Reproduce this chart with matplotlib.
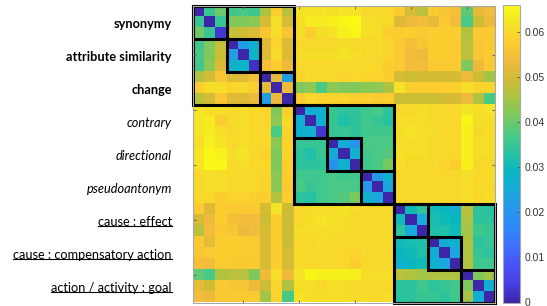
import numpy as np
import matplotlib
matplotlib.use('Agg')
import matplotlib.pyplot as plt
from matplotlib.colors import LinearSegmentedColormap
from matplotlib.patches import Rectangle
from matplotlib.lines import Line2D
import matplotlib.transforms as mtransforms

# relation labels, one per block of 3 word pairs
relations = ['synonymy', 'attribute similarity', 'change',
             'contrary', 'directional', 'pseudoantonym',
             'cause : effect', 'cause : compensatory action', 'action / activity : goal']
label_style = ['bold'] * 3 + ['italic'] * 3 + ['underline'] * 3
block_size = 3
family_size = 9

# upper triangle of the distance matrix (row i, columns i..26), in thousandths
sim_upper = [
    [0, 35, 40, 36, 37, 36, 46, 58, 47, 62, 62, 62, 61, 62, 62, 60, 60, 60, 57, 50, 47, 57, 56, 55, 39, 52, 54],
    [0, 35, 42, 42, 43, 50, 61, 50, 61, 63, 63, 64, 65, 66, 61, 61, 60, 51, 53, 54, 52, 57, 54, 37, 49, 53],
    [3, 48, 49, 51, 56, 61, 56, 61, 58, 61, 62, 64, 65, 61, 61, 58, 58, 58, 57, 58, 58, 58, 46, 57, 57],
    [0, 22, 27, 51, 59, 51, 60, 60, 60, 60, 61, 60, 60, 60, 59, 57, 55, 56, 58, 58, 57, 47, 56, 57],
    [0, 28, 51, 60, 51, 61, 61, 61, 61, 62, 61, 60, 60, 59, 57, 54, 53, 58, 58, 57, 47, 56, 57],
    [2, 55, 58, 53, 60, 60, 60, 60, 60, 60, 60, 60, 58, 57, 54, 54, 57, 57, 57, 42, 53, 57],
    [0, 52, 22, 59, 60, 60, 60, 59, 60, 59, 59, 58, 50, 49, 50, 50, 50, 50, 53, 49, 45],
    [0, 53, 42, 43, 37, 43, 42, 42, 43, 43, 46, 62, 58, 58, 58, 58, 58, 61, 59, 59],
    [0, 58, 60, 59, 59, 59, 58, 58, 57, 58, 49, 49, 49, 49, 50, 50, 53, 46, 37],
    [0, 26, 27, 35, 34, 34, 36, 37, 34, 60, 60, 61, 60, 60, 60, 62, 61, 62],
    [0, 27, 35, 32, 34, 36, 35, 33, 61, 61, 61, 60, 60, 60, 65, 61, 61],
    [3, 35, 35, 34, 36, 36, 36, 61, 62, 61, 61, 60, 60, 64, 60, 61],
    [0, 26, 20, 37, 37, 37, 61, 61, 61, 60, 60, 60, 64, 61, 61],
    [0, 27, 36, 37, 38, 62, 61, 61, 60, 60, 60, 64, 61, 61],
    [0, 36, 37, 41, 61, 60, 60, 60, 59, 58, 64, 60, 60],
    [0, 21, 27, 60, 60, 60, 60, 60, 60, 61, 60, 61],
    [0, 24, 60, 60, 60, 60, 60, 60, 61, 60, 60],
    [0, 60, 60, 60, 60, 60, 60, 61, 60, 61],
    [0, 30, 34, 30, 29, 27, 47, 34, 33],
    [0, 25, 31, 30, 29, 46, 34, 34],
    [0, 32, 32, 30, 45, 36, 35],
    [0, 26, 27, 46, 34, 35],
    [0, 24, 46, 35, 34],
    [0, 46, 36, 36],
    [0, 42, 45],
    [0, 26],
    [0],
]
cbar_ticks = [0, 0.01, 0.02, 0.03, 0.04, 0.05, 0.06]
cbar_labels = ['0', '0.01', '0.02', '0.03', '0.04', '0.05', '0.06']
cbar_max = 0.066

n = len(sim_upper)
sim = np.zeros((n, n))
for i, row in enumerate(sim_upper):
    sim[i, i:] = row
    sim[i:, i] = row
sim = sim / 1000.0

# parula-like colormap
parula_anchors = [
    (0.000, (0.2422, 0.1504, 0.6603)),
    (0.0625, (0.2717, 0.2468, 0.8937)),
    (0.125, (0.2810, 0.3228, 0.9579)),
    (0.1875, (0.2440, 0.4358, 0.9988)),
    (0.25, (0.1786, 0.5289, 0.9682)),
    (0.3125, (0.1540, 0.5902, 0.9218)),
    (0.375, (0.0964, 0.6675, 0.8615)),
    (0.4375, (0.0300, 0.7200, 0.7600)),
    (0.50, (0.1500, 0.7600, 0.6400)),
    (0.5625, (0.2900, 0.7900, 0.5200)),
    (0.625, (0.4800, 0.7900, 0.3800)),
    (0.6875, (0.6600, 0.7700, 0.2700)),
    (0.75, (0.8200, 0.7400, 0.2000)),
    (0.8125, (0.9500, 0.7300, 0.2400)),
    (0.875, (0.9900, 0.8000, 0.1900)),
    (0.9375, (0.9600, 0.8900, 0.1500)),
    (1.0, (0.9769, 0.9839, 0.0805)),
]
parula = LinearSegmentedColormap.from_list('parula', parula_anchors, N=256)

W, H = 547, 306
fig = plt.figure(figsize=(W / 100, H / 100), dpi=100)
ax = fig.add_axes([193 / W, 3.5 / H, 302 / W, 297 / H])
im = ax.imshow(sim, cmap=parula, vmin=0, vmax=cbar_max, aspect='auto', interpolation='nearest')

ticks = [4, 9, 14, 19, 24]
ax.set_xticks(ticks)
ax.set_yticks(ticks)
ax.tick_params(direction='in', length=2, width=0.6, color='#555555',
               top=True, right=True, labelbottom=False, labelleft=False)
for sp in ax.spines.values():
    sp.set_color('#a8a8a8')
    sp.set_linewidth(0.8)

# block boxes
for start in range(0, n, family_size):
    ax.add_patch(Rectangle((start - 0.5, start - 0.5), family_size, family_size,
                           fill=False, ec='black', lw=2.2, clip_on=False))
for start in range(0, n, block_size):
    ax.add_patch(Rectangle((start - 0.5, start - 0.5), block_size, block_size,
                           fill=False, ec='black', lw=2.2, clip_on=False))

# relation labels
trans = mtransforms.blended_transform_factory(ax.transAxes, ax.transData)
texts = []
for k, (lab, st) in enumerate(zip(relations, label_style)):
    yc = k * block_size + 1 + 0.2
    kw = dict(fontsize=9.2, family=['Lato', 'DejaVu Sans'], color='black')
    if st == 'bold':
        kw['fontweight'] = 'bold'
    elif st == 'italic':
        kw['fontstyle'] = 'italic'
    t = ax.text(-0.07, yc, lab, transform=trans, ha='right', va='center', **kw)
    texts.append((t, st))

# colorbar
cax = fig.add_axes([503 / W, 3.5 / H, 17 / W, 298 / H])
cb = fig.colorbar(im, cax=cax, ticks=cbar_ticks)
cb.ax.set_yticklabels(cbar_labels)
cb.ax.tick_params(direction='in', length=2, width=0.6, color='#555555',
                  labelsize=7.5, labelcolor='#333333', pad=3)
for lbl in cb.ax.get_yticklabels():
    lbl.set_family(['Liberation Sans', 'DejaVu Sans'])
cb.outline.set_edgecolor('#a8a8a8')
cb.outline.set_linewidth(0.8)

# underline the causal relations
renderer = fig.canvas.get_renderer()
for t, st in texts:
    if st != 'underline':
        continue
    bb = t.get_window_extent(renderer)
    y = bb.y0 + 2
    fig.add_artist(Line2D([bb.x0 / W, bb.x1 / W], [y / H, y / H], color='black', lw=0.8))

fig.savefig('out.png', dpi=100)
